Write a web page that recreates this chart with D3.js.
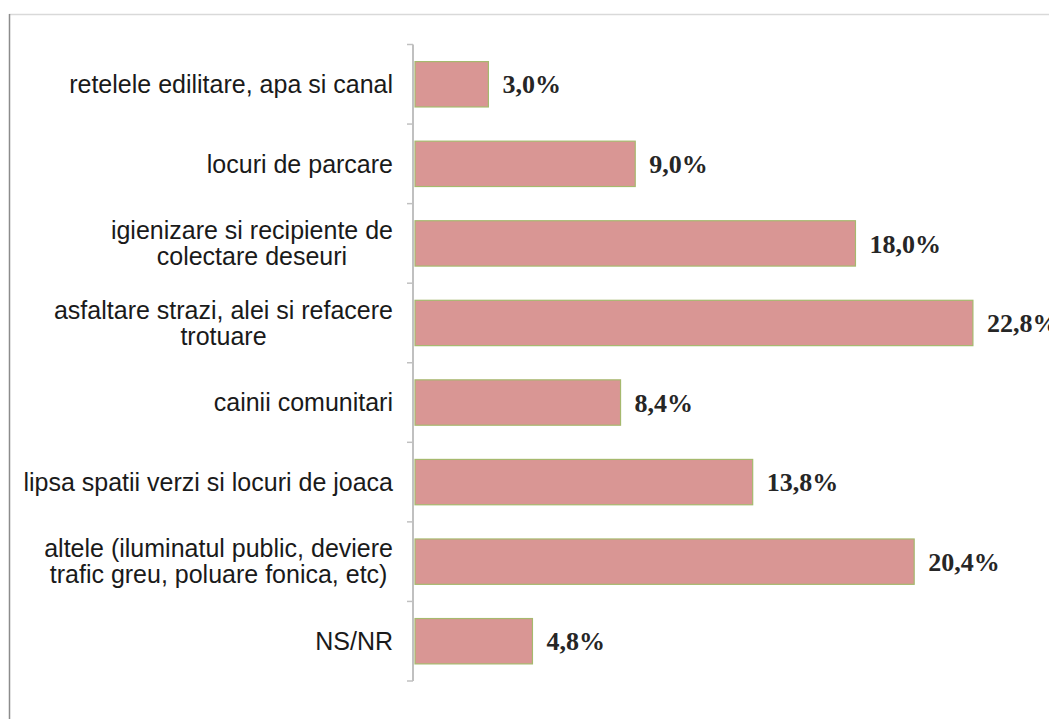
<!DOCTYPE html>
<html><head><meta charset="utf-8">
<script src="https://cdn.jsdelivr.net/npm/d3@7"></script>
<style>body{margin:0;background:#fff}svg{display:block}</style>
</head><body>
<script>
const categories = [
  ["retelele edilitare, apa si canal"],
  ["locuri de parcare"],
  ["igienizare si recipiente de", "colectare deseuri"],
  ["asfaltare strazi, alei si refacere", "trotuare"],
  ["cainii comunitari"],
  ["lipsa spatii verzi si locuri de joaca"],
  ["altele (iluminatul public, deviere", "trafic greu, poluare fonica, etc)"],
  ["NS/NR"]
];
const values = [3.0, 9.0, 18.0, 22.8, 8.4, 13.8, 20.4, 4.8];
const valueLabels = ["3,0%", "9,0%", "18,0%", "22,8%", "8,4%", "13,8%", "20,4%", "4,8%"];

const W = 1049, H = 719;
const svg = d3.select("body").append("svg").attr("width", W).attr("height", H);

// frame
svg.append("line").attr("x1", 9).attr("x2", W).attr("y1", 14.5).attr("y2", 14.5)
  .attr("stroke", "#d9d9d9").attr("stroke-width", 1.5);
svg.append("line").attr("x1", 9.5).attr("x2", 9.5).attr("y1", 14).attr("y2", H)
  .attr("stroke", "#8c8c8c").attr("stroke-width", 1.5);

const idx = d3.range(categories.length);
const y = d3.scaleBand().domain(idx).range([44.5, 681]).paddingInner(0.43).paddingOuter(0.215);
const x = d3.scaleLinear().domain([0, 25]).range([415, 415 + 25 * 24.47]);

// axis line & ticks
const axisX = 413;
const step = y.step();
const y0 = y.range()[0];
const g = svg.append("g");
g.append("line").attr("x1", axisX).attr("x2", axisX).attr("y1", y0).attr("y2", y0 + step * idx.length)
  .attr("stroke", "#c0c0c0").attr("stroke-width", 2);
d3.range(idx.length + 1).forEach(i => {
  g.append("line").attr("x1", axisX - 6).attr("x2", axisX).attr("y1", y0 + i * step).attr("y2", y0 + i * step)
    .attr("stroke", "#c0c0c0").attr("stroke-width", 1.5);
});

// bars
svg.selectAll("rect.bar").data(idx).join("rect").attr("class", "bar")
  .attr("x", x(0)).attr("y", i => y(i)).attr("height", y.bandwidth())
  .attr("width", i => x(values[i]) - x(0))
  .attr("fill", "#d99694").attr("stroke", "#a6b96e").attr("stroke-width", 1.2);

// value labels
svg.selectAll("text.val").data(idx).join("text").attr("class", "val")
  .attr("x", i => x(values[i]) + 14).attr("y", i => y(i) + y.bandwidth() / 2)
  .attr("dy", "0.35em")
  .attr("font-family", "'Liberation Serif', 'DejaVu Serif', serif")
  .attr("font-weight", "bold").attr("font-size", 26).attr("fill", "#262626")
  .text(i => valueLabels[i]);

// category labels
const right = 393, lh = 26, fs = 25;
idx.forEach(i => {
  const lines = categories[i];
  const cy = y(i) + y.bandwidth() / 2;
  const grp = svg.append("g");
  const texts = lines.map((t, k) => grp.append("text")
    .attr("font-family", "'Liberation Sans', Arial, sans-serif")
    .attr("font-size", fs).attr("fill", "#1a1a1a")
    .attr("y", cy + (k - (lines.length - 1) / 2) * lh).attr("dy", "0.35em")
    .text(t));
  const widths = texts.map(t => t.node().getComputedTextLength());
  const mw = d3.max(widths);
  texts.forEach(t => t.attr("x", right - mw / 2).attr("text-anchor", "middle"));
});
</script>
</body></html>
